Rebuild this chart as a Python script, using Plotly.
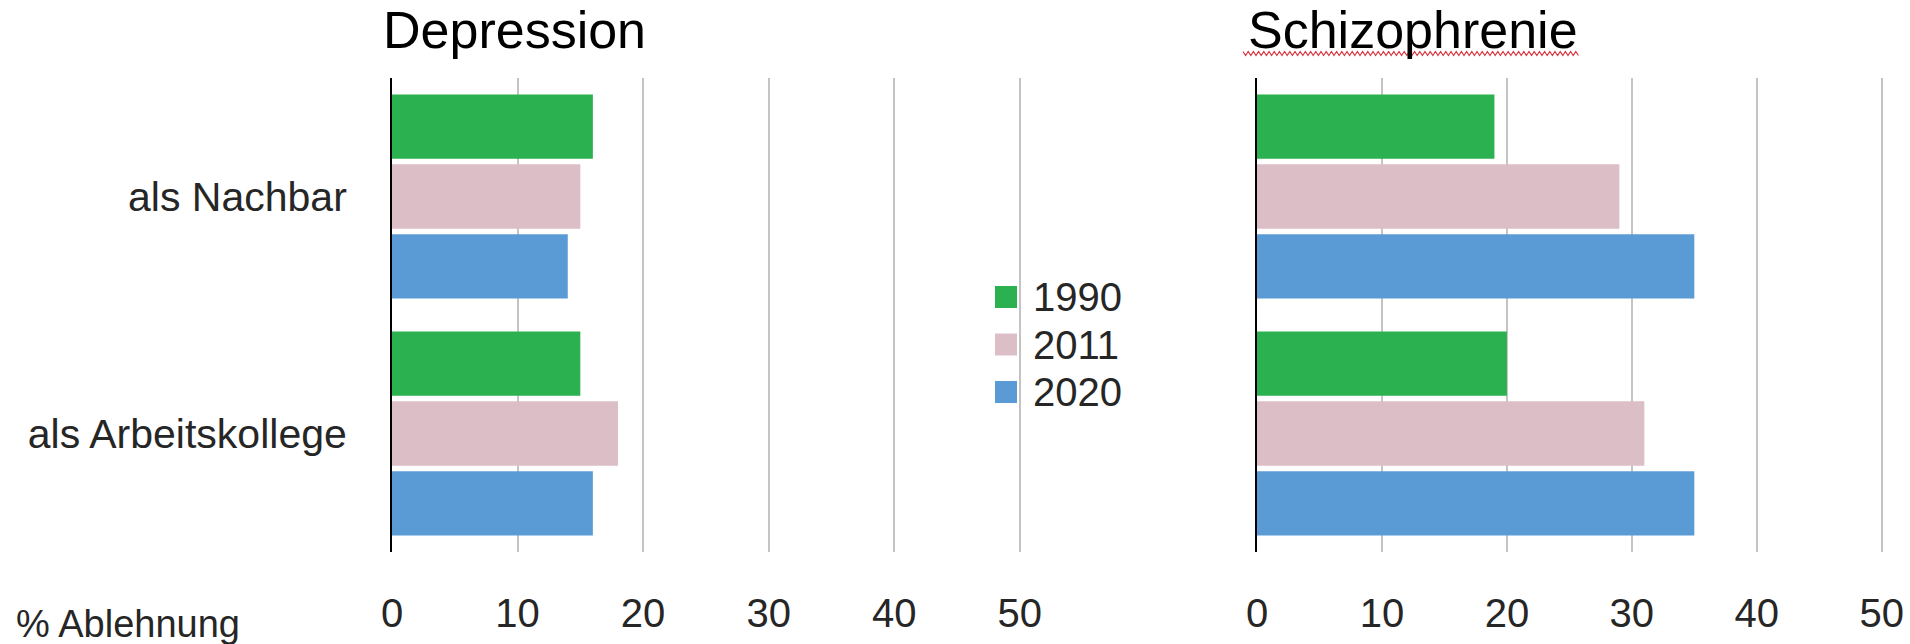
import plotly.graph_objects as go

# Canvas size in pixels
W, H = 1910, 644

# ---- data -------------------------------------------------------------
categories = ["als Nachbar", "als Arbeitskollege"]
years = ["1990", "2011", "2020"]
year_colors = ["#2bb14f", "#dcbec6", "#5b9bd5"]

depression_1990 = [16, 15]
depression_2011 = [15, 18]
depression_2020 = [14, 16]

schizophrenie_1990 = [19, 20]
schizophrenie_2011 = [29, 31]
schizophrenie_2020 = [35, 35]

panel_titles = ["Depression", "Schizophrenie"]
x_ticks = [0, 10, 20, 30, 40, 50]
x_axis_note = "% Ablehnung"

FONT = "Liberation Sans, Arial, sans-serif"


def px_x(p):
    return p / W


def px_y(p):
    return 1 - p / H


fig = go.Figure()

panels = [
    ("x", "y", [depression_1990, depression_2011, depression_2020]),
    ("x2", "y2", [schizophrenie_1990, schizophrenie_2011, schizophrenie_2020]),
]
for xa, ya, series in panels:
    for year, color, values in zip(years, year_colors, series):
        fig.add_trace(go.Bar(
            y=categories, x=values, orientation="h", name=year,
            marker=dict(color=color, line=dict(width=0)),
            xaxis=xa, yaxis=ya, showlegend=False,
        ))

x_common = dict(
    range=[0, 50.5], tickmode="array", tickvals=x_ticks,
    showgrid=True, gridcolor="#c4c4c4", gridwidth=1.5,
    zeroline=False, showline=False, ticks="", automargin=False,
    tickfont=dict(family=FONT, size=40, color="#262626"),
    ticklabelstandoff=34, fixedrange=True,
)
y_common = dict(
    categoryorder="array", categoryarray=categories, autorange="reversed",
    showgrid=False, zeroline=False, showline=True, automargin=False,
    linecolor="#000000", linewidth=2, ticks="",
    domain=[px_y(552), px_y(78)], fixedrange=True,
)

fig.update_layout(
    width=W, height=H,
    margin=dict(l=0, r=0, t=0, b=0, autoexpand=False),
    paper_bgcolor="white", plot_bgcolor="white",
    barmode="group", bargap=0.115, bargroupgap=0.08,
    showlegend=False,
    xaxis=dict(domain=[px_x(392), px_x(1026)], anchor="y", **x_common),
    xaxis2=dict(domain=[px_x(1257), px_x(1888)], anchor="y2", **x_common),
    yaxis=dict(anchor="x", showticklabels=True, ticklabelstandoff=35,
               tickfont=dict(family=FONT, size=41, color="#262626"), **y_common),
    yaxis2=dict(anchor="x2", showticklabels=False, **y_common),
)

annotations = []
# Panel headings
for title, left in zip(panel_titles, [381, 1246]):
    annotations.append(dict(
        text=title, xref="paper", yref="paper", x=px_x(left), y=px_y(29.5),
        xanchor="left", yanchor="middle", showarrow=False,
        font=dict(family=FONT, size=52, color="#000000"),
    ))

# Axis unit note in the bottom-left corner
annotations.append(dict(
    text=x_axis_note, xref="paper", yref="paper", x=px_x(14), y=px_y(624),
    xanchor="left", yanchor="middle", showarrow=False,
    font=dict(family=FONT, size=38, color="#262626"),
))

# Legend between the two panels: coloured squares with year labels
shapes = []
legend_rows = [297, 344.5, 392]
for year, color, yc in zip(years, year_colors, legend_rows):
    shapes.append(dict(
        type="rect", xref="paper", yref="paper",
        x0=px_x(995), x1=px_x(1017), y0=px_y(yc + 11), y1=px_y(yc - 11),
        fillcolor=color, line=dict(width=0),
    ))
    annotations.append(dict(
        text=year, xref="paper", yref="paper", x=px_x(1031), y=px_y(yc),
        xanchor="left", yanchor="middle", showarrow=False,
        font=dict(family=FONT, size=40, color="#262626"),
    ))

# Red wavy spell-check underline beneath the second heading
zig = []
xp, up = 1243.0, True
while xp <= 1580:
    zig.append((px_x(xp), px_y(51.5 if up else 55.5)))
    xp += 2.6
    up = not up
path = "M" + " L".join(f"{a:.5f},{b:.5f}" for a, b in zig)
shapes.append(dict(type="path", xref="paper", yref="paper", path=path,
                   line=dict(color="#d9303c", width=1.2)))

fig.update_layout(annotations=annotations, shapes=shapes)

fig.write_html("out.html", config={"displayModeBar": False})
